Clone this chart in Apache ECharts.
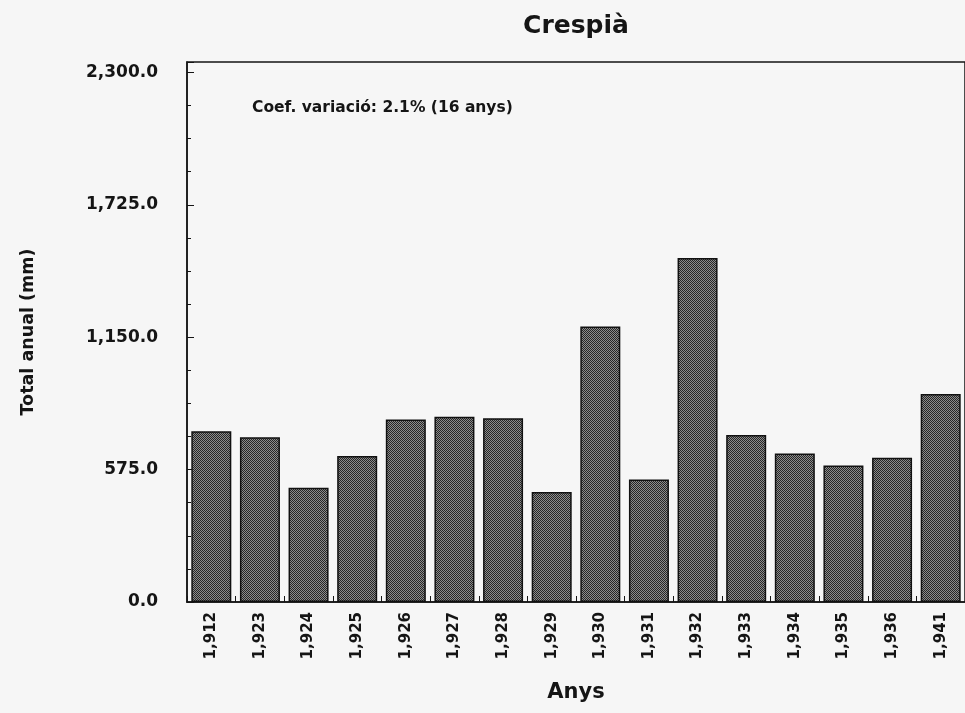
<!DOCTYPE html>
<html>
<head>
<meta charset="utf-8">
<title>Crespià</title>
<script src="https://cdn.jsdelivr.net/npm/echarts@6/dist/echarts.min.js"></script>
<style>
  html, body { margin: 0; padding: 0; background: #f6f6f6; }
  #chart { width: 965px; height: 713px; }
</style>
</head>
<body>
<div id="chart"></div>
<script>
// anys (etiquetes tal com surten al gràfic)
var years = ['1,912', '1,923', '1,924', '1,925', '1,926', '1,927', '1,928', '1,929',
             '1,930', '1,931', '1,932', '1,933', '1,934', '1,935', '1,936', '1,941']
// total anual (mm), llegit del gràfic
var totals = [742, 715, 496, 634, 793, 805, 798, 478, 1196, 532, 1494, 725, 645, 593, 626, 903]
var yTickStep = 575
var yTopTick = 2300
var note = 'Coef. variació: 2.1% (16 anys)'

var FONT = 'DejaVu Sans'
var INK = '#151515'

// trama de punts per a les barres
function makePattern() {
  var c = document.createElement('canvas')
  c.width = 2
  c.height = 2
  var ctx = c.getContext('2d')
  ctx.fillStyle = '#8c8c8c'
  ctx.fillRect(0, 0, 2, 2)
  ctx.fillStyle = '#262626'
  ctx.fillRect(0, 0, 1, 1)
  ctx.fillRect(1, 1, 1, 1)
  return c
}

var chart = echarts.init(document.getElementById('chart'), null, { renderer: 'canvas' })

chart.setOption({
  backgroundColor: '#f6f6f6',
  animation: false,
  title: {
    text: 'Crespià',
    left: 571,
    top: 9,
    textAlign: 'center',
    textStyle: { fontFamily: FONT, fontWeight: 'bold', fontSize: 25, color: INK }
  },
  grid: {
    left: 187,
    right: -4,
    top: 62,
    bottom: 111,
    show: true,
    borderColor: INK,
    borderWidth: 1.5,
    backgroundColor: 'transparent'
  },
  graphic: [{
    type: 'text',
    left: 252,
    top: 100,
    style: { text: note, font: 'bold 15.5px "DejaVu Sans"', fill: INK }
  }],
  xAxis: {
    type: 'category',
    data: years,
    name: 'Anys',
    nameLocation: 'middle',
    nameGap: 80,
    nameTextStyle: { fontFamily: FONT, fontWeight: 'bold', fontSize: 21, color: INK },
    axisLine: { show: true, lineStyle: { color: INK, width: 1.5 } },
    axisTick: { show: true, inside: true, length: 6, lineStyle: { color: INK } },
    axisLabel: {
      rotate: 90,
      margin: 10,
      fontFamily: FONT,
      fontWeight: 'bold',
      fontSize: 15,
      color: INK
    },
    splitLine: { show: false }
  },
  yAxis: {
    type: 'value',
    min: 0,
    max: 2345,
    interval: yTickStep,
    name: 'Total anual (mm)',
    nameLocation: 'middle',
    nameGap: 150,
    nameTextStyle: { fontFamily: FONT, fontWeight: 'bold', fontSize: 17.5, color: INK },
    axisLine: { show: true, lineStyle: { color: INK, width: 1.5 } },
    axisTick: { show: true, inside: true, length: 7, lineStyle: { color: INK } },
    minorTick: { show: true, splitNumber: 4, length: 4, lineStyle: { color: INK } },
    axisLabel: {
      margin: 29,
      showMaxLabel: false,
      fontFamily: FONT,
      fontWeight: 'bold',
      fontSize: 17,
      color: INK,
      formatter: function (v) {
        if (v > yTopTick) return ''
        return v.toLocaleString('en-US', { minimumFractionDigits: 1, maximumFractionDigits: 1 })
      }
    },
    splitLine: { show: false }
  },
  series: [{
    type: 'bar',
    data: totals,
    barWidth: 40,
    itemStyle: {
      color: { image: makePattern(), repeat: 'repeat' },
      borderColor: '#111',
      borderWidth: 1.5
    }
  }]
})
</script>
</body>
</html>
